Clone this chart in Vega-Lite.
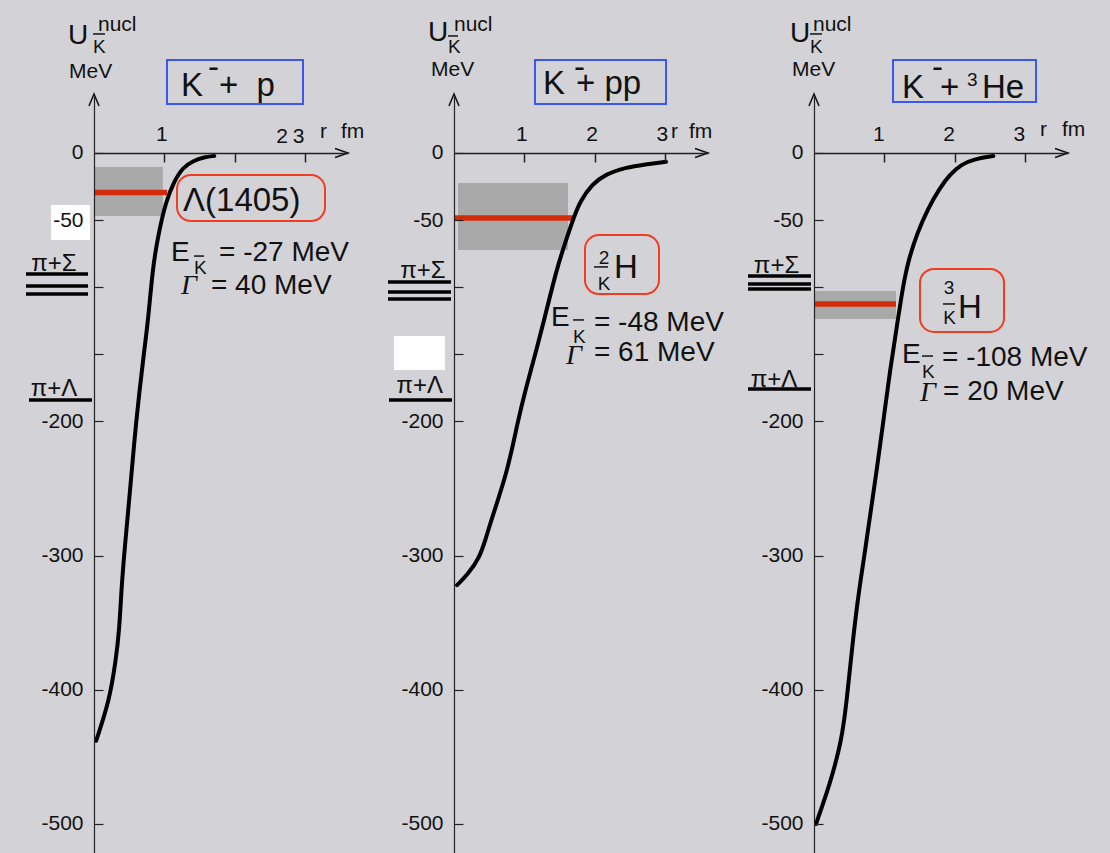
{
  "$schema": "https://vega.github.io/schema/vega-lite/v6.json",
  "background": "#d3d3d7",
  "padding": 0,
  "autosize": {"type": "pad"},
  "spacing": 106,
  "bounds": "flush",
  "config": {
    "view": {"stroke": null},
    "text": {"font": "Liberation Sans", "color": "#111111"},
    "axis": {"labelFont": "Liberation Sans", "labelFontSize": 21, "labelColor": "#111111", "domainColor": "#222222", "tickColor": "#222222", "grid": false, "labelFlush": false, "labelOverlap": false}
  },
  "data": {"values": [
    {"p":1,"role":"anchor","r":-1.3229,"U":113.26,"r2":-1.3229,"U2":113.26},
    {"p":1,"role":"white","r":-0.612,"r2":-0.057,"U":-38.7,"U2":-64.8},
    {"p":1,"role":"band","r":0,"r2":0.98,"U":-10.4,"U2":-46.9},
    {"p":1,"role":"level","r":0,"r2":1.04,"U":-29.4},
    {"p":1,"role":"curve","r":0.03,"U":-438},
    {"p":1,"role":"curve","r":0.22,"U":-408},
    {"p":1,"role":"curve","r":0.31,"U":-378},
    {"p":1,"role":"curve","r":0.36,"U":-356},
    {"p":1,"role":"curve","r":0.394,"U":-321},
    {"p":1,"role":"curve","r":0.445,"U":-290},
    {"p":1,"role":"curve","r":0.50,"U":-259},
    {"p":1,"role":"curve","r":0.597,"U":-200},
    {"p":1,"role":"curve","r":0.707,"U":-150},
    {"p":1,"role":"curve","r":0.77,"U":-125},
    {"p":1,"role":"curve","r":0.835,"U":-85.5},
    {"p":1,"role":"curve","r":0.915,"U":-60.6},
    {"p":1,"role":"curve","r":1.024,"U":-35.8},
    {"p":1,"role":"curve","r":1.142,"U":-20.9},
    {"p":1,"role":"curve","r":1.262,"U":-10.9},
    {"p":1,"role":"curve","r":1.404,"U":-6.0},
    {"p":1,"role":"curve","r":1.569,"U":-3.0},
    {"p":1,"role":"curve","r":1.711,"U":-2.2},
    {"p":1,"role":"thr","r":-0.967,"r2":-0.085,"U":-90.2},
    {"p":1,"role":"thr","r":-0.967,"r2":-0.085,"U":-99.1},
    {"p":1,"role":"thr","r":-0.967,"r2":-0.085,"U":-105.1},
    {"p":1,"role":"thr","r":-0.924,"r2":-0.028,"U":-184.1},
    {"p":1,"role":"bluebox","r":1.038,"r2":2.973,"U":69.3,"U2":36.5},
    {"p":1,"role":"redbox","r":1.181,"r2":3.286,"U":-16.4,"U2":-50.7},
    {"p":1,"role":"bar","r":-0.014,"r2":0.156,"U":88.7},
    {"p":1,"role":"bar","r":1.422,"r2":1.565,"U":-76.8},
    {"p":1,"role":"arrowUp","r":0,"U":44.0},
    {"p":1,"role":"arrowRight","r":3.613,"U":0},
    {"p":1,"role":"tMid","t":"U","r":-0.370,"U":81.2},
    {"p":1,"role":"tMid","t":"E","r":1.095,"U":-80.5},
    {"p":1,"role":"tMid","t":"= -27 MeV","r":1.778,"U":-80.5},
    {"p":1,"role":"tMid","t":"= 40 MeV","r":1.664,"U":-105.1},
    {"p":1,"role":"tGamma","t":"Γ","r":1.238,"U":-105.1},
    {"p":1,"role":"tSmall","t":"K","r":-0.014,"U":74.5},
    {"p":1,"role":"tSmall","t":"K","r":1.422,"U":-90.2},
    {"p":1,"role":"tNorm","t":"nucl","r":0.057,"U":90.9},
    {"p":1,"role":"tNorm","t":"MeV","r":-0.356,"U":55.9},
    {"p":1,"role":"tNorm","t":"r","r":3.215,"U":11.2},
    {"p":1,"role":"tNorm","t":"fm","r":3.514,"U":11.2},
    {"p":1,"role":"tNormC","t":"2","r":2.674,"U":7.45},
    {"p":1,"role":"tNormC","t":"3","r":2.909,"U":7.45},
    {"p":1,"role":"tThr","t":"π+Σ","r":-0.569,"U":-87.9},
    {"p":1,"role":"tThr","t":"π+Λ","r":-0.569,"U":-181.1},
    {"p":1,"role":"tBig","t":"K","r":1.238,"U":42.5},
    {"p":1,"role":"tBig","t":"-","r":1.622,"U":56.0},
    {"p":1,"role":"tBig","t":"+\u00a0\u00a0p","r":1.778,"U":42.5},
    {"p":1,"role":"tBig","t":"Λ(1405)","r":1.266,"U":-43.2},

    {"p":2,"role":"white","r":-0.853,"r2":-0.128,"U":-136.4,"U2":-161.7},
    {"p":2,"role":"band","r":0.057,"r2":1.622,"U":-22.4,"U2":-72.3},
    {"p":2,"role":"level","r":0,"r2":1.721,"U":-48.4},
    {"p":2,"role":"curve","r":0.043,"U":-322},
    {"p":2,"role":"curve","r":0.195,"U":-314},
    {"p":2,"role":"curve","r":0.36,"U":-302},
    {"p":2,"role":"curve","r":0.455,"U":-287},
    {"p":2,"role":"curve","r":0.526,"U":-274},
    {"p":2,"role":"curve","r":0.764,"U":-237},
    {"p":2,"role":"curve","r":0.906,"U":-200},
    {"p":2,"role":"curve","r":1.024,"U":-175},
    {"p":2,"role":"curve","r":1.166,"U":-148},
    {"p":2,"role":"curve","r":1.28,"U":-125},
    {"p":2,"role":"curve","r":1.465,"U":-85.5},
    {"p":2,"role":"curve","r":1.59,"U":-65.6},
    {"p":2,"role":"curve","r":1.702,"U":-48.2},
    {"p":2,"role":"curve","r":1.796,"U":-35.8},
    {"p":2,"role":"curve","r":1.963,"U":-23.3},
    {"p":2,"role":"curve","r":2.152,"U":-15.9},
    {"p":2,"role":"curve","r":2.437,"U":-10.9},
    {"p":2,"role":"curve","r":2.721,"U":-8.4},
    {"p":2,"role":"curve","r":3.016,"U":-6.5},
    {"p":2,"role":"thr","r":-0.939,"r2":-0.043,"U":-96.1},
    {"p":2,"role":"thr","r":-0.939,"r2":-0.043,"U":-103.6},
    {"p":2,"role":"thr","r":-0.939,"r2":-0.043,"U":-108.8},
    {"p":2,"role":"thr","r":-0.925,"r2":-0.028,"U":-184.1},
    {"p":2,"role":"bluebox","r":1.152,"r2":3.016,"U":69.3,"U2":36.5},
    {"p":2,"role":"redbox","r":1.863,"r2":2.916,"U":-61.1,"U2":-105.1},
    {"p":2,"role":"bar","r":-0.085,"r2":0.057,"U":87.2},
    {"p":2,"role":"bar","r":1.991,"r2":2.191,"U":-84.9},
    {"p":2,"role":"bar","r":1.693,"r2":1.849,"U":-124.4},
    {"p":2,"role":"arrowUp","r":0,"U":44.0},
    {"p":2,"role":"arrowRight","r":3.613,"U":0},
    {"p":2,"role":"tMid","t":"U","r":-0.370,"U":83.5},
    {"p":2,"role":"tMid","t":"E","r":1.380,"U":-128.9},
    {"p":2,"role":"tMid","t":"= -48 MeV","r":1.991,"U":-132.6},
    {"p":2,"role":"tMid","t":"= 61 MeV","r":1.991,"U":-155.0},
    {"p":2,"role":"tGamma","t":"Γ","r":1.593,"U":-157.2},
    {"p":2,"role":"tSmall","t":"K","r":-0.085,"U":74.5},
    {"p":2,"role":"tSmall","t":"K","r":1.693,"U":-141.6},
    {"p":2,"role":"tSmallC","t":"2","r":2.134,"U":-82.7},
    {"p":2,"role":"tSmallC","t":"K","r":2.134,"U":-102.1},
    {"p":2,"role":"tNorm","t":"nucl","r":0,"U":90.9},
    {"p":2,"role":"tNorm","t":"MeV","r":-0.327,"U":57.4},
    {"p":2,"role":"tNorm","t":"r","r":3.087,"U":11.2},
    {"p":2,"role":"tNorm","t":"fm","r":3.343,"U":11.2},
    {"p":2,"role":"tThr","t":"π+Σ","r":-0.441,"U":-93.1},
    {"p":2,"role":"tThr","t":"π+Λ","r":-0.488,"U":-178.8},
    {"p":2,"role":"tBig","t":"K","r":1.266,"U":44.0},
    {"p":2,"role":"tBig","t":"-","r":1.707,"U":56.0},
    {"p":2,"role":"tBig","t":"+ pp","r":1.735,"U":44.0},
    {"p":2,"role":"tBig","t":"H","r":2.276,"U":-93.1},

    {"p":3,"role":"anchor","r":4.2105,"U":-522.35,"r2":4.2105,"U2":-522.35},
    {"p":3,"role":"band","r":0,"r2":1.166,"U":-102.8,"U2":-123.7},
    {"p":3,"role":"level","r":0,"r2":1.166,"U":-112.5},
    {"p":3,"role":"curve","r":0.028,"U":-500},
    {"p":3,"role":"curve","r":0.228,"U":-470},
    {"p":3,"role":"curve","r":0.394,"U":-438},
    {"p":3,"role":"curve","r":0.465,"U":-408},
    {"p":3,"role":"curve","r":0.512,"U":-384},
    {"p":3,"role":"curve","r":0.583,"U":-349},
    {"p":3,"role":"curve","r":0.654,"U":-321},
    {"p":3,"role":"curve","r":0.725,"U":-297},
    {"p":3,"role":"curve","r":0.787,"U":-274},
    {"p":3,"role":"curve","r":0.891,"U":-237},
    {"p":3,"role":"curve","r":0.986,"U":-200},
    {"p":3,"role":"curve","r":1.081,"U":-162},
    {"p":3,"role":"curve","r":1.176,"U":-130},
    {"p":3,"role":"curve","r":1.27,"U":-98},
    {"p":3,"role":"curve","r":1.341,"U":-80.5},
    {"p":3,"role":"curve","r":1.46,"U":-60.6},
    {"p":3,"role":"curve","r":1.626,"U":-40.8},
    {"p":3,"role":"curve","r":1.792,"U":-25.9},
    {"p":3,"role":"curve","r":1.934,"U":-15.9},
    {"p":3,"role":"curve","r":2.10,"U":-8.4},
    {"p":3,"role":"curve","r":2.266,"U":-4.7},
    {"p":3,"role":"curve","r":2.55,"U":-2.2},
    {"p":3,"role":"thr","r":-0.939,"r2":-0.043,"U":-91.7},
    {"p":3,"role":"thr","r":-0.939,"r2":-0.043,"U":-97.6},
    {"p":3,"role":"thr","r":-0.939,"r2":-0.043,"U":-101.3},
    {"p":3,"role":"thr","r":-0.939,"r2":-0.043,"U":-175.9},
    {"p":3,"role":"bluebox","r":1.124,"r2":3.158,"U":69.3,"U2":38.0},
    {"p":3,"role":"redbox","r":1.508,"r2":2.703,"U":-86.4,"U2":-133.4},
    {"p":3,"role":"bar","r":-0.057,"r2":0.114,"U":88.7},
    {"p":3,"role":"bar","r":1.835,"r2":2.006,"U":-112.5},
    {"p":3,"role":"bar","r":1.536,"r2":1.693,"U":-151.3},
    {"p":3,"role":"arrowUp","r":0,"U":44.0},
    {"p":3,"role":"arrowRight","r":3.613,"U":0},
    {"p":3,"role":"tMid","t":"U","r":-0.341,"U":82.7},
    {"p":3,"role":"tMid","t":"E","r":1.252,"U":-156.5},
    {"p":3,"role":"tMid","t":"= -108 MeV","r":1.821,"U":-158.7},
    {"p":3,"role":"tMid","t":"= 20 MeV","r":1.835,"U":-184.1},
    {"p":3,"role":"tGamma","t":"Γ","r":1.508,"U":-184.8},
    {"p":3,"role":"tSmall","t":"K","r":-0.057,"U":74.5},
    {"p":3,"role":"tSmall","t":"K","r":1.536,"U":-167.7},
    {"p":3,"role":"tSmall","t":"3","r":2.176,"U":49.9},
    {"p":3,"role":"tSmallC","t":"3","r":1.920,"U":-105.1},
    {"p":3,"role":"tSmallC","t":"K","r":1.927,"U":-127.4},
    {"p":3,"role":"tNorm","t":"nucl","r":-0.014,"U":90.9},
    {"p":3,"role":"tNorm","t":"MeV","r":-0.313,"U":57.4},
    {"p":3,"role":"tNorm","t":"r","r":3.215,"U":12.7},
    {"p":3,"role":"tNorm","t":"fm","r":3.528,"U":12.7},
    {"p":3,"role":"tThr","t":"π+Σ","r":-0.533,"U":-89.4},
    {"p":3,"role":"tThr","t":"π+Λ","r":-0.569,"U":-174.4},
    {"p":3,"role":"tBig","t":"K","r":1.252,"U":41.0},
    {"p":3,"role":"tBig","t":"-","r":1.679,"U":56.0},
    {"p":3,"role":"tBig","t":"+","r":1.792,"U":41.0},
    {"p":3,"role":"tBig","t":"He","r":2.390,"U":41.0},
    {"p":3,"role":"tBig","t":"H","r":2.048,"U":-123.0}
  ]},
  "hconcat": [
    {
      "width": 254, "height": 757,
      "transform": [{"filter": "datum.p == 1"}],
      "encoding": {
        "x": {"field": "r", "type": "quantitative", "scale": {"domain": [0, 3.613], "nice": false, "zero": false},
              "axis": {"orient": "top", "offset": -57, "values": [1, 2, 3], "title": null, "tickSize": -9, "tickWidth": 1.5, "domainWidth": 1.5, "labelPadding": 18, "labelOffset": -3, "labelExpr": "datum.value == 1 ? '1' : ''", "zindex": 1}},
        "y": {"field": "U", "type": "quantitative", "scale": {"domain": [-521.61, 42.47], "nice": false, "zero": false},
              "axis": {"orient": "left", "values": [0, -50, -100, -150, -200, -300, -400, -500], "labelExpr": "datum.value == -100 || datum.value == -150 ? '' : toString(datum.value)", "title": null, "tickSize": -9, "tickWidth": 1.2, "domainWidth": 1.2, "labelPadding": 20, "zindex": 1}}
      },
      "layer": [
        {"transform": [{"filter": "datum.role == 'anchor'"}], "mark": {"type": "rect", "opacity": 0}, "encoding": {"x2": {"field": "r2"}, "y2": {"field": "U2"}}},
        {"transform": [{"filter": "datum.role == 'white'"}], "mark": {"type": "rect", "color": "#ffffff"}, "encoding": {"x2": {"field": "r2"}, "y2": {"field": "U2"}}},
        {"transform": [{"filter": "datum.role == 'band'"}], "mark": {"type": "rect", "color": "#a9a9a9"}, "encoding": {"x2": {"field": "r2"}, "y2": {"field": "U2"}}},
        {"transform": [{"filter": "datum.role == 'level'"}], "mark": {"type": "rule", "color": "#d42b0b", "strokeWidth": 5.5}, "encoding": {"x2": {"field": "r2"}}},
        {"transform": [{"filter": "datum.role == 'curve'"}], "mark": {"type": "line", "color": "#000000", "strokeWidth": 4, "strokeCap": "round", "interpolate": "basis"}, "encoding": {}},
        {"transform": [{"filter": "datum.role == 'thr'"}], "mark": {"type": "rule", "color": "#000000", "strokeWidth": 3.5}, "encoding": {"x2": {"field": "r2"}}},
        {"transform": [{"filter": "datum.role == 'bluebox'"}], "mark": {"type": "rect", "fill": "#ffffff", "fillOpacity": 0, "stroke": "#3a58ef", "strokeWidth": 2}, "encoding": {"x2": {"field": "r2"}, "y2": {"field": "U2"}}},
        {"transform": [{"filter": "datum.role == 'redbox'"}], "mark": {"type": "rect", "fill": "#ffffff", "fillOpacity": 0, "stroke": "#ee3d20", "strokeWidth": 2, "cornerRadius": 14}, "encoding": {"x2": {"field": "r2"}, "y2": {"field": "U2"}}},
        {"transform": [{"filter": "datum.role == 'bar'"}], "mark": {"type": "rule", "color": "#111111", "strokeWidth": 1.5}, "encoding": {"x2": {"field": "r2"}}},
        {"transform": [{"filter": "datum.role == 'arrowUp'"}], "mark": {"type": "point", "shape": "M-0.42,1L0,0L0.42,1", "size": 576, "filled": false, "stroke": "#111111", "strokeWidth": 1.5, "opacity": 1}},
        {"transform": [{"filter": "datum.role == 'arrowRight'"}], "mark": {"type": "point", "shape": "M-1.08,-0.38L0,0L-1.08,0.38", "size": 576, "filled": false, "stroke": "#111111", "strokeWidth": 1.5, "opacity": 1}},
        {"transform": [{"filter": "datum.role == 'tBig'"}], "mark": {"type": "text", "fontSize": 33, "align": "left", "baseline": "alphabetic"}, "encoding": {"text": {"field": "t", "type": "nominal"}}},
        {"transform": [{"filter": "datum.role == 'tMid'"}], "mark": {"type": "text", "fontSize": 28, "align": "left", "baseline": "alphabetic"}, "encoding": {"text": {"field": "t", "type": "nominal"}}},
        {"transform": [{"filter": "datum.role == 'tGamma'"}], "mark": {"type": "text", "fontSize": 28, "font": "Liberation Serif", "fontStyle": "italic", "align": "left", "baseline": "alphabetic"}, "encoding": {"text": {"field": "t", "type": "nominal"}}},
        {"transform": [{"filter": "datum.role == 'tNorm'"}], "mark": {"type": "text", "fontSize": 21, "align": "left", "baseline": "alphabetic"}, "encoding": {"text": {"field": "t", "type": "nominal"}}},
        {"transform": [{"filter": "datum.role == 'tNormC'"}], "mark": {"type": "text", "fontSize": 21, "align": "center", "baseline": "alphabetic"}, "encoding": {"text": {"field": "t", "type": "nominal"}}},
        {"transform": [{"filter": "datum.role == 'tSmall'"}], "mark": {"type": "text", "fontSize": 19, "align": "left", "baseline": "alphabetic"}, "encoding": {"text": {"field": "t", "type": "nominal"}}},
        {"transform": [{"filter": "datum.role == 'tSmallC'"}], "mark": {"type": "text", "fontSize": 19, "align": "center", "baseline": "alphabetic"}, "encoding": {"text": {"field": "t", "type": "nominal"}}},
        {"transform": [{"filter": "datum.role == 'tThr'"}], "mark": {"type": "text", "fontSize": 24, "align": "center", "baseline": "alphabetic"}, "encoding": {"text": {"field": "t", "type": "nominal"}}}
      ]
    },
    {
      "width": 254, "height": 757,
      "transform": [{"filter": "datum.p == 2"}],
      "encoding": {
        "x": {"field": "r", "type": "quantitative", "scale": {"domain": [0, 3.613], "nice": false, "zero": false},
              "axis": {"orient": "top", "offset": -57, "values": [1, 2, 3], "title": null, "tickSize": -9, "tickWidth": 1.5, "domainWidth": 1.5, "labelPadding": 18, "labelOffset": -3, "zindex": 1}},
        "y": {"field": "U", "type": "quantitative", "scale": {"domain": [-521.61, 42.47], "nice": false, "zero": false},
              "axis": {"orient": "left", "values": [0, -50, -100, -150, -200, -300, -400, -500], "labelExpr": "datum.value == -100 || datum.value == -150 ? '' : toString(datum.value)", "title": null, "tickSize": -9, "tickWidth": 1.2, "domainWidth": 1.2, "labelPadding": 20, "zindex": 1}}
      },
      "layer": [
        {"transform": [{"filter": "datum.role == 'white'"}], "mark": {"type": "rect", "color": "#ffffff"}, "encoding": {"x2": {"field": "r2"}, "y2": {"field": "U2"}}},
        {"transform": [{"filter": "datum.role == 'band'"}], "mark": {"type": "rect", "color": "#a9a9a9"}, "encoding": {"x2": {"field": "r2"}, "y2": {"field": "U2"}}},
        {"transform": [{"filter": "datum.role == 'level'"}], "mark": {"type": "rule", "color": "#d42b0b", "strokeWidth": 5.5}, "encoding": {"x2": {"field": "r2"}}},
        {"transform": [{"filter": "datum.role == 'curve'"}], "mark": {"type": "line", "color": "#000000", "strokeWidth": 4, "strokeCap": "round", "interpolate": "basis"}, "encoding": {}},
        {"transform": [{"filter": "datum.role == 'thr'"}], "mark": {"type": "rule", "color": "#000000", "strokeWidth": 3.5}, "encoding": {"x2": {"field": "r2"}}},
        {"transform": [{"filter": "datum.role == 'bluebox'"}], "mark": {"type": "rect", "fill": "#ffffff", "fillOpacity": 0, "stroke": "#3a58ef", "strokeWidth": 2}, "encoding": {"x2": {"field": "r2"}, "y2": {"field": "U2"}}},
        {"transform": [{"filter": "datum.role == 'redbox'"}], "mark": {"type": "rect", "fill": "#ffffff", "fillOpacity": 0, "stroke": "#ee3d20", "strokeWidth": 2, "cornerRadius": 14}, "encoding": {"x2": {"field": "r2"}, "y2": {"field": "U2"}}},
        {"transform": [{"filter": "datum.role == 'bar'"}], "mark": {"type": "rule", "color": "#111111", "strokeWidth": 1.5}, "encoding": {"x2": {"field": "r2"}}},
        {"transform": [{"filter": "datum.role == 'arrowUp'"}], "mark": {"type": "point", "shape": "M-0.42,1L0,0L0.42,1", "size": 576, "filled": false, "stroke": "#111111", "strokeWidth": 1.5, "opacity": 1}},
        {"transform": [{"filter": "datum.role == 'arrowRight'"}], "mark": {"type": "point", "shape": "M-1.08,-0.38L0,0L-1.08,0.38", "size": 576, "filled": false, "stroke": "#111111", "strokeWidth": 1.5, "opacity": 1}},
        {"transform": [{"filter": "datum.role == 'tBig'"}], "mark": {"type": "text", "fontSize": 33, "align": "left", "baseline": "alphabetic"}, "encoding": {"text": {"field": "t", "type": "nominal"}}},
        {"transform": [{"filter": "datum.role == 'tMid'"}], "mark": {"type": "text", "fontSize": 28, "align": "left", "baseline": "alphabetic"}, "encoding": {"text": {"field": "t", "type": "nominal"}}},
        {"transform": [{"filter": "datum.role == 'tGamma'"}], "mark": {"type": "text", "fontSize": 28, "font": "Liberation Serif", "fontStyle": "italic", "align": "left", "baseline": "alphabetic"}, "encoding": {"text": {"field": "t", "type": "nominal"}}},
        {"transform": [{"filter": "datum.role == 'tNorm'"}], "mark": {"type": "text", "fontSize": 21, "align": "left", "baseline": "alphabetic"}, "encoding": {"text": {"field": "t", "type": "nominal"}}},
        {"transform": [{"filter": "datum.role == 'tSmall'"}], "mark": {"type": "text", "fontSize": 19, "align": "left", "baseline": "alphabetic"}, "encoding": {"text": {"field": "t", "type": "nominal"}}},
        {"transform": [{"filter": "datum.role == 'tSmallC'"}], "mark": {"type": "text", "fontSize": 19, "align": "center", "baseline": "alphabetic"}, "encoding": {"text": {"field": "t", "type": "nominal"}}},
        {"transform": [{"filter": "datum.role == 'tThr'"}], "mark": {"type": "text", "fontSize": 24, "align": "center", "baseline": "alphabetic"}, "encoding": {"text": {"field": "t", "type": "nominal"}}}
      ]
    },
    {
      "width": 254, "height": 757,
      "transform": [{"filter": "datum.p == 3"}],
      "encoding": {
        "x": {"field": "r", "type": "quantitative", "scale": {"domain": [0, 3.613], "nice": false, "zero": false},
              "axis": {"orient": "top", "offset": -57, "values": [1, 2, 3], "title": null, "tickSize": -9, "tickWidth": 1.5, "domainWidth": 1.5, "labelPadding": 18, "labelOffset": -6, "zindex": 1}},
        "y": {"field": "U", "type": "quantitative", "scale": {"domain": [-521.61, 42.47], "nice": false, "zero": false},
              "axis": {"orient": "left", "values": [0, -50, -100, -150, -200, -300, -400, -500], "labelExpr": "datum.value == -100 || datum.value == -150 ? '' : toString(datum.value)", "title": null, "tickSize": -9, "tickWidth": 1.2, "domainWidth": 1.2, "labelPadding": 20, "zindex": 1}}
      },
      "layer": [
        {"transform": [{"filter": "datum.role == 'anchor'"}], "mark": {"type": "rect", "opacity": 0}, "encoding": {"x2": {"field": "r2"}, "y2": {"field": "U2"}}},
        {"transform": [{"filter": "datum.role == 'band'"}], "mark": {"type": "rect", "color": "#a9a9a9"}, "encoding": {"x2": {"field": "r2"}, "y2": {"field": "U2"}}},
        {"transform": [{"filter": "datum.role == 'level'"}], "mark": {"type": "rule", "color": "#d42b0b", "strokeWidth": 5.5}, "encoding": {"x2": {"field": "r2"}}},
        {"transform": [{"filter": "datum.role == 'curve'"}], "mark": {"type": "line", "color": "#000000", "strokeWidth": 4, "strokeCap": "round", "interpolate": "basis"}, "encoding": {}},
        {"transform": [{"filter": "datum.role == 'thr'"}], "mark": {"type": "rule", "color": "#000000", "strokeWidth": 3.5}, "encoding": {"x2": {"field": "r2"}}},
        {"transform": [{"filter": "datum.role == 'bluebox'"}], "mark": {"type": "rect", "fill": "#ffffff", "fillOpacity": 0, "stroke": "#3a58ef", "strokeWidth": 2}, "encoding": {"x2": {"field": "r2"}, "y2": {"field": "U2"}}},
        {"transform": [{"filter": "datum.role == 'redbox'"}], "mark": {"type": "rect", "fill": "#ffffff", "fillOpacity": 0, "stroke": "#ee3d20", "strokeWidth": 2, "cornerRadius": 14}, "encoding": {"x2": {"field": "r2"}, "y2": {"field": "U2"}}},
        {"transform": [{"filter": "datum.role == 'bar'"}], "mark": {"type": "rule", "color": "#111111", "strokeWidth": 1.5}, "encoding": {"x2": {"field": "r2"}}},
        {"transform": [{"filter": "datum.role == 'arrowUp'"}], "mark": {"type": "point", "shape": "M-0.42,1L0,0L0.42,1", "size": 576, "filled": false, "stroke": "#111111", "strokeWidth": 1.5, "opacity": 1}},
        {"transform": [{"filter": "datum.role == 'arrowRight'"}], "mark": {"type": "point", "shape": "M-1.08,-0.38L0,0L-1.08,0.38", "size": 576, "filled": false, "stroke": "#111111", "strokeWidth": 1.5, "opacity": 1}},
        {"transform": [{"filter": "datum.role == 'tBig'"}], "mark": {"type": "text", "fontSize": 33, "align": "left", "baseline": "alphabetic"}, "encoding": {"text": {"field": "t", "type": "nominal"}}},
        {"transform": [{"filter": "datum.role == 'tMid'"}], "mark": {"type": "text", "fontSize": 28, "align": "left", "baseline": "alphabetic"}, "encoding": {"text": {"field": "t", "type": "nominal"}}},
        {"transform": [{"filter": "datum.role == 'tGamma'"}], "mark": {"type": "text", "fontSize": 28, "font": "Liberation Serif", "fontStyle": "italic", "align": "left", "baseline": "alphabetic"}, "encoding": {"text": {"field": "t", "type": "nominal"}}},
        {"transform": [{"filter": "datum.role == 'tNorm'"}], "mark": {"type": "text", "fontSize": 21, "align": "left", "baseline": "alphabetic"}, "encoding": {"text": {"field": "t", "type": "nominal"}}},
        {"transform": [{"filter": "datum.role == 'tSmall'"}], "mark": {"type": "text", "fontSize": 19, "align": "left", "baseline": "alphabetic"}, "encoding": {"text": {"field": "t", "type": "nominal"}}},
        {"transform": [{"filter": "datum.role == 'tSmallC'"}], "mark": {"type": "text", "fontSize": 19, "align": "center", "baseline": "alphabetic"}, "encoding": {"text": {"field": "t", "type": "nominal"}}},
        {"transform": [{"filter": "datum.role == 'tThr'"}], "mark": {"type": "text", "fontSize": 24, "align": "center", "baseline": "alphabetic"}, "encoding": {"text": {"field": "t", "type": "nominal"}}}
      ]
    }
  ]
}
